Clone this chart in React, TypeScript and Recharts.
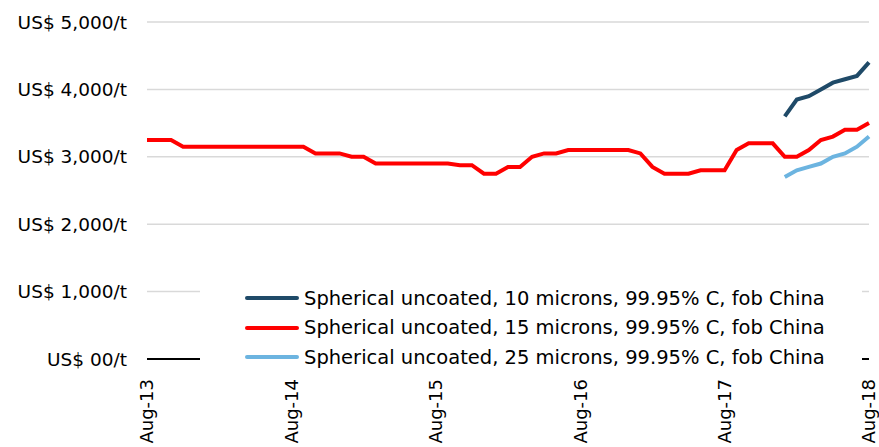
import { LineChart, Line, XAxis, YAxis, CartesianGrid } from 'recharts'

const months = [
  'Aug-13', 'Sep-13', 'Oct-13', 'Nov-13', 'Dec-13',
  'Jan-14', 'Feb-14', 'Mar-14', 'Apr-14', 'May-14', 'Jun-14', 'Jul-14', 'Aug-14', 'Sep-14', 'Oct-14', 'Nov-14', 'Dec-14',
  'Jan-15', 'Feb-15', 'Mar-15', 'Apr-15', 'May-15', 'Jun-15', 'Jul-15', 'Aug-15', 'Sep-15', 'Oct-15', 'Nov-15', 'Dec-15',
  'Jan-16', 'Feb-16', 'Mar-16', 'Apr-16', 'May-16', 'Jun-16', 'Jul-16', 'Aug-16', 'Sep-16', 'Oct-16', 'Nov-16', 'Dec-16',
  'Jan-17', 'Feb-17', 'Mar-17', 'Apr-17', 'May-17', 'Jun-17', 'Jul-17', 'Aug-17', 'Sep-17', 'Oct-17', 'Nov-17', 'Dec-17',
  'Jan-18', 'Feb-18', 'Mar-18', 'Apr-18', 'May-18', 'Jun-18', 'Jul-18', 'Aug-18',
]

// 15 microns, full history
const microns15 = [
  3250, 3250, 3250, 3150, 3150,
  3150, 3150, 3150, 3150, 3150, 3150, 3150, 3150, 3150, 3050, 3050, 3050,
  3000, 3000, 2900, 2900, 2900, 2900, 2900, 2900, 2900, 2875, 2875, 2750,
  2750, 2850, 2850, 3000, 3050, 3050, 3100, 3100, 3100, 3100, 3100, 3100,
  3050, 2850, 2750, 2750, 2750, 2800, 2800, 2800, 3100, 3200, 3200, 3200,
  3000, 3000, 3100, 3250, 3300, 3400, 3400, 3500,
]

// 10 and 25 microns only quoted from Jan-18
const shortStart = 'Jan-18'
const microns10 = [3600, 3850, 3900, 4000, 4100, 4150, 4200, 4400]
const microns25 = [2700, 2800, 2850, 2900, 3000, 3050, 3150, 3300]

const yTicks = [0, 1000, 2000, 3000, 4000, 5000]
const yTickLabels = ['US$ 00/t', 'US$ 1,000/t', 'US$ 2,000/t', 'US$ 3,000/t', 'US$ 4,000/t', 'US$ 5,000/t']
const xTicks = ['Aug-13', 'Aug-14', 'Aug-15', 'Aug-16', 'Aug-17', 'Aug-18']

const series = [
  { key: 'm10', name: 'Spherical uncoated, 10 microns, 99.95% C, fob China', color: '#1f4a68' },
  { key: 'm15', name: 'Spherical uncoated, 15 microns, 99.95% C, fob China', color: '#ff0000' },
  { key: 'm25', name: 'Spherical uncoated, 25 microns, 99.95% C, fob China', color: '#6cb4e0' },
]

const startIdx = months.indexOf(shortStart)
const data = months.map((m, i) => ({
  month: m,
  m15: microns15[i],
  m10: i >= startIdx ? microns10[i - startIdx] : null,
  m25: i >= startIdx ? microns25[i - startIdx] : null,
}))

const FONT = '"DejaVu Sans", sans-serif'

function XTick({ x, y, payload }: any) {
  return (
    <text
      transform={`translate(${x},${y + 12}) rotate(-90)`}
      textAnchor="end"
      dy="0.35em"
      fontSize={18}
      fontFamily={FONT}
      fill="#000"
    >
      {payload.value}
    </text>
  )
}

// white legend panel sits over the lower gridlines and axis, like the original
function LegendBox() {
  return (
    <div style={{ position: 'absolute', left: 200, top: 282, width: 662, height: 86, background: '#fff', fontFamily: FONT, fontSize: 19.5, color: '#000' }}>
      {series.map((s, i) => (
        <div key={s.key} style={{ position: 'absolute', left: 45, top: 16 + i * 29.5 - 13, height: 26, display: 'flex', alignItems: 'center', whiteSpace: 'nowrap' }}>
          <span style={{ display: 'inline-block', width: 54, height: 4, borderRadius: 2, background: s.color, marginRight: 5 }} />
          <span>{s.name}</span>
        </div>
      ))}
    </div>
  )
}

export default function App() {
  return (
    <div style={{ position: 'absolute', left: 0, top: 0, width: 879, height: 447, background: '#fff', overflow: 'hidden' }}>
      <LineChart width={879} height={447} data={data} margin={{ top: 22, right: 10, bottom: 0, left: 0 }}>
        <CartesianGrid horizontal vertical={false} stroke="#d9d9d9" strokeWidth={1.5} />
        <XAxis
          dataKey="month"
          ticks={xTicks}
          interval={0}
          tick={<XTick />}
          tickLine={false}
          axisLine={{ stroke: '#000', strokeWidth: 2 }}
          height={88}
        />
        <YAxis
          domain={[0, 5000]}
          ticks={yTicks}
          tickFormatter={(v: number) => yTickLabels[yTicks.indexOf(v)]}
          width={147}
          axisLine={false}
          tickLine={false}
          tickSize={0}
          tickMargin={20}
          tick={{ fontSize: 18.5, fontFamily: FONT, fill: '#000' }}
        />
        {series.map(s => (
          <Line
            key={s.key}
            dataKey={s.key}
            name={s.name}
            stroke={s.color}
            strokeWidth={4}
            dot={false}
            isAnimationActive={false}
            connectNulls={false}
          />
        ))}
      </LineChart>
      <LegendBox />
    </div>
  )
}
